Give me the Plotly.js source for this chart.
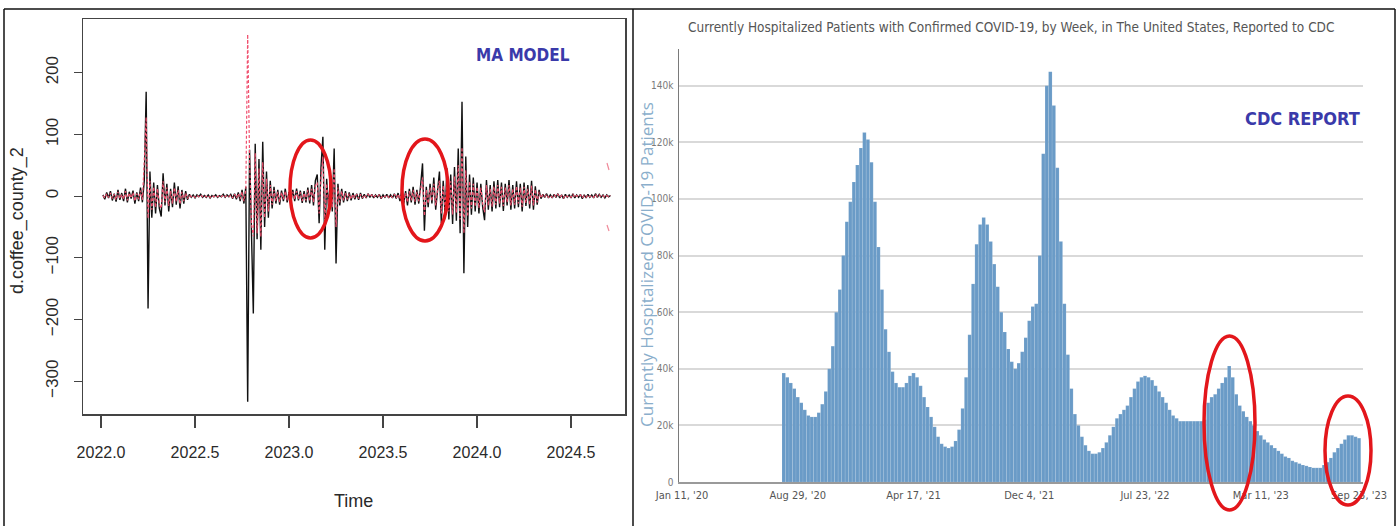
<!DOCTYPE html>
<html>
<head>
<meta charset="utf-8">
<script src="https://cdn.plot.ly/plotly-3.0.1.min.js"></script>
<style>html,body{margin:0;padding:0;background:#fff;}#chart{width:1400px;height:526px;}</style>
</head>
<body>
<div id="chart"></div>
<script>
// ---------- Left panel: MA model (time series, start 2022.01, step 0.01 year) ----------
var maStart = 2022.01;
var maStep = 0.01;
var maActual = [
  2,-5,6,-3,8,-7,4,-9,10,-6,
  5,-8,12,-10,7,-4,9,-12,6,-8,
  14,-10,25,169,-182,40,-35,22,-28,18,
  -20,-33,37,-15,20,-25,12,-18,22,-14,
  16,-20,10,-12,8,-6,3,-2,2,-3,
  2,-1,3,-2,1,-2,2,-3,1,-1,
  2,-2,1,-1,3,-2,2,-1,3,-4,
  4,-5,6,-8,10,-12,15,-333,75,-60,
  -190,85,-70,60,-87,88,-50,40,-35,25,
  -20,15,-12,10,-14,9,-8,12,-10,7,
  -9,10,-8,12,-7,9,-11,8,-10,14,
  -12,18,-15,25,35,-44,47,96,-87,28,
  -20,30,-25,77,-109,20,-15,12,-10,8,
  -8,6,-7,5,-5,4,-6,5,-4,3,
  -3,4,-2,3,-3,2,-2,3,-4,2,
  -2,3,-3,2,-3,4,-4,5,-8,10,
  -12,8,-15,12,-10,15,-14,10,-12,18,
  53,-56,15,-18,20,-12,30,-22,16,40,
  -44,25,-30,45,-38,35,-45,47,-40,77,
  -60,153,-125,64,-50,35,-30,30,-25,22,
  -28,20,-18,-39,26,-22,18,-25,24,-20,
  26,-18,22,-24,20,-15,26,-22,18,-20,
  24,-18,20,-25,22,-16,18,-20,25,-22,
  16,-14,10,-4,3,-2,4,-3,2,-3,
  3,-2,4,-3,2,-4,3,-2,2,-3,
  4,-3,2,-2,3,-4,2,-3,3,-2,
  2,-3,4,-2,3,-2,2,-3,2,-1,1
];
var maFitted = [
  1,-3,4,-2,5,-4,3,-6,7,-4,
  3,-5,8,-7,5,-3,6,-8,4,-5,
  9,-6,58,128,-36,25,-22,15,-18,12,
  -14,-20,24,-10,14,-16,8,-12,14,-9,
  10,-13,7,-8,5,-4,2,-1,1,-2,
  1,-1,2,-1,1,-1,1,-2,1,-1,
  1,-1,1,-1,2,-1,1,-1,2,-3,
  3,-3,4,-5,7,-8,10,262,60,-45,
  -65,70,-60,45,-66,55,-35,28,-25,18,
  -14,10,-8,7,-10,6,-5,8,-7,5,
  -6,7,-5,8,-5,6,-8,5,-7,10,
  -8,12,-10,17,22,-28,30,64,-40,20,
  -14,20,-18,45,-50,14,-10,8,-7,5,
  -5,4,-5,3,-3,3,-4,3,-3,2,
  -2,3,-1,2,-2,1,-1,2,-3,1,
  -1,2,-2,1,-2,3,-3,3,-5,7,
  -8,5,-10,8,-7,10,-9,7,-8,12,
  30,-32,10,-12,14,-8,20,-15,11,25,
  -28,17,-20,30,-25,24,-30,32,-27,50,
  -38,79,-60,42,-33,24,-20,20,-17,15,
  -19,14,-12,-26,18,-15,12,-17,16,-14,
  18,-12,15,-16,14,-10,18,-15,12,-14,
  16,-12,14,-17,15,-11,12,-14,17,-15,
  11,-10,7,-3,2,-1,3,-2,1,-2,
  2,-1,3,-2,1,-3,2,-1,1,-2,
  3,-2,1,-1,2,-3,1,-2,2,-1,
  1,-2,3,-1,2,-1,1,-2,1,-1,1
];
var maTicks = [2022.0, 2022.5, 2023.0, 2023.5, 2024.0, 2024.5];
var maTickLabels = ["2022.0","2022.5","2023.0","2023.5","2024.0","2024.5"];
var maYTicks = [-300,-200,-100,0,100,200];

// ---------- Right panel: CDC weekly hospitalizations (thousands), weekly from 2020-08-01 ----------
var cdcStart = "2020-08-01";
var cdcWeeklyK = [
  38.5,37,35,33,30,28,25.5,23.5,23,23,
  24.5,27.5,32,40,48,60,68,80,92,99,
  106,112,118,123.5,121,113,99,83,68,54,
  46,39,35,33.5,33.5,35,37.5,38.5,37,34,
  30,26.5,23,19.5,16,13.5,12.5,12,12.5,14.5,
  18.5,26,37,52,70,84,91,93.5,91,85,
  77,69,60,53,47,42.5,40,42,46,51,
  57,62,63,80,116,140,145,133,111,85,
  63,45,33,24,20,16,13,11,10,10,
  10.5,12,14,16.5,19.5,22.5,24,25.5,27,30,
  33,35.5,37,37.5,37,36,34,32,30,28,
  25.5,23.5,22.5,21.5,21.5,21.5,21.5,21.5,21.5,21.5,
  22,28,30,31,33,35,37,41,37,31,
  27,25,23,21.5,20,18,16.5,15,14,13,
  12,11,10,9,8.5,7.5,7,6.5,6,5.7,
  5.3,5,5,5,6,7,8.5,10.5,12,13.5,
  15,16.5,16.5,16,15.5
];
var cdcTickDates = ["2020-01-11","2020-08-29","2021-04-17","2021-12-04","2022-07-23","2023-03-11","2023-09-23"];
var cdcTickLabels = ["Jan 11, '20","Aug 29, '20","Apr 17, '21","Dec 4, '21","Jul 23, '22","Mar 11, '23","Sep 23, '23"];
var cdcYTicks = [0,20,40,60,80,100,120,140];
var cdcYTickLabels = ["0","20k","40k","60k","80k","100k","120k","140k"];

// ---------- layout helpers (pixel -> paper) ----------
var W = 1400, H = 526;
function px(x){ return x / W; }
function py(y){ return 1 - y / H; }

var narrow = "Liberation Sans Narrow, DejaVu Sans Condensed, Arial Narrow, sans-serif";
var rfont = "Liberation Sans, Arial, Helvetica, sans-serif";

var traces = [
  { type: "scatter", mode: "lines", x0: maStart, dx: maStep, y: maActual,
    line: {color: "#111111", width: 1.4}, xaxis: "x", yaxis: "y", hoverinfo: "skip" },
  { type: "scatter", mode: "lines", x0: maStart, dx: maStep, y: maFitted,
    line: {color: "#f0506e", width: 1.2, dash: "3px,2px"}, xaxis: "x", yaxis: "y", hoverinfo: "skip" },
  { type: "bar", x0: cdcStart, dx: 7 * 86400000, y: cdcWeeklyK,
    marker: {color: "#6a9bc7", line: {color: "rgba(255,255,255,0.25)", width: 0.4}},
    xaxis: "x2", yaxis: "y2", hoverinfo: "skip" }
];

function ellipse(x0, y0, x1, y1){
  return {type: "circle", xref: "paper", yref: "paper",
    x0: px(x0), x1: px(x1), y0: py(y1), y1: py(y0),
    line: {color: "#e3161b", width: 3.5}, layer: "above"};
}
function seg(x0, y0, x1, y1, color, width){
  return {type: "line", xref: "paper", yref: "paper",
    x0: px(x0), x1: px(x1), y0: py(y0), y1: py(y1),
    line: {color: color, width: width}, layer: "above"};
}

var layout = {
  width: W, height: H,
  margin: {l: 0, r: 0, t: 0, b: 0},
  paper_bgcolor: "#ffffff", plot_bgcolor: "#ffffff",
  showlegend: false,
  bargap: 0.0,
  xaxis: {
    domain: [px(83), px(625)], range: [2021.904, 2024.787],
    tickvals: maTicks, ticktext: maTickLabels,
    showgrid: false, zeroline: false,
    showline: true, mirror: true, linecolor: "#444", linewidth: 1.5,
    ticks: "outside", ticklen: 12, tickwidth: 1.2, tickcolor: "#444",
    ticklabelstandoff: 11,
    tickfont: {family: rfont, size: 16, color: "#2a2a2a"},
    anchor: "y", automargin: false
  },
  yaxis: {
    domain: [py(414), py(19)], range: [-353, 287],
    tickvals: maYTicks, tickangle: -90,
    showgrid: false, zeroline: false,
    showline: true, mirror: true, linecolor: "#444", linewidth: 1.5,
    ticks: "outside", ticklen: 8, tickwidth: 1.2, tickcolor: "#444",
    ticklabelstandoff: 9,
    tickfont: {family: rfont, size: 17, color: "#2a2a2a"},
    anchor: "x", automargin: false
  },
  xaxis2: {
    domain: [px(679), px(1363)], range: ["2020-01-05", "2023-10-01"],
    type: "date",
    tickvals: cdcTickDates, ticktext: cdcTickLabels,
    showgrid: false, zeroline: false,
    showline: true, linecolor: "#9a9a9a", linewidth: 1.5,
    ticks: "", ticklabelstandoff: 2,
    tickfont: {family: narrow, size: 11, color: "#555"},
    anchor: "y2", automargin: false
  },
  yaxis2: {
    domain: [py(482), py(49)], range: [0, 153],
    tickvals: cdcYTicks, ticktext: cdcYTickLabels,
    showgrid: true, gridcolor: "#d9d9d9", gridwidth: 2,
    zeroline: false,
    showline: true, linecolor: "#7a7a7a", linewidth: 1.5,
    ticks: "", ticklabelstandoff: 2,
    tickfont: {family: narrow, size: 10, color: "#7a7a7a"},
    anchor: "x2", automargin: false
  },
  annotations: [
    {xref: "paper", yref: "paper", x: px(353), y: py(501), text: "Time", showarrow: false,
     xanchor: "center", yanchor: "middle", font: {family: rfont, size: 18, color: "#2a2a2a"}},
    {xref: "paper", yref: "paper", x: px(17), y: py(221), text: "d.coffee_county_2", showarrow: false,
     textangle: -90, xanchor: "center", yanchor: "middle", font: {family: rfont, size: 18, color: "#2a2a2a"}},
    {xref: "paper", yref: "paper", x: px(523), y: py(55), text: "<b>MA MODEL</b>", showarrow: false,
     xanchor: "center", yanchor: "middle", font: {family: narrow, size: 17, color: "#3a3aaa"}},
    {xref: "paper", yref: "paper", x: px(1011), y: py(27),
     text: "Currently Hospitalized Patients with Confirmed COVID-19, by Week, in The United States, Reported to CDC",
     showarrow: false, xanchor: "center", yanchor: "middle", font: {family: narrow, size: 13.5, color: "#555"}},
    {xref: "paper", yref: "paper", x: px(646), y: py(265), text: "Currently Hospitalized COVID-19 Patients",
     showarrow: false, textangle: -90, xanchor: "center", yanchor: "middle",
     font: {family: "Open Sans, sans-serif", size: 17, color: "#8aaecb"}},
    {xref: "paper", yref: "paper", x: px(1302), y: py(118), text: "<b>CDC REPORT</b>", showarrow: false,
     xanchor: "center", yanchor: "middle", font: {family: narrow, size: 18, color: "#3a3aaa"}}
  ],
  shapes: [
    // outer frame and panel divider
    seg(4, 9, 1395, 9, "#111", 1.5),
    seg(4, 9, 4, 526, "#111", 1.5),
    seg(1395, 9, 1395, 526, "#111", 1.5),
    seg(633, 9, 633, 526, "#111", 1.5),
    // small pink remnants at the right of left panel
    seg(607, 163, 609, 170, "#f08a9a", 1.2),
    seg(607, 225, 609, 231, "#f08a9a", 1.2),
    // red highlight ellipses
    ellipse(290, 140, 331, 238),
    ellipse(402, 139, 448, 241),
    ellipse(1204, 336, 1255, 510),
    ellipse(1325, 396, 1371, 505)
  ]
};

Plotly.newPlot("chart", traces, layout, {staticPlot: true, displayModeBar: false});
</script>
</body>
</html>
